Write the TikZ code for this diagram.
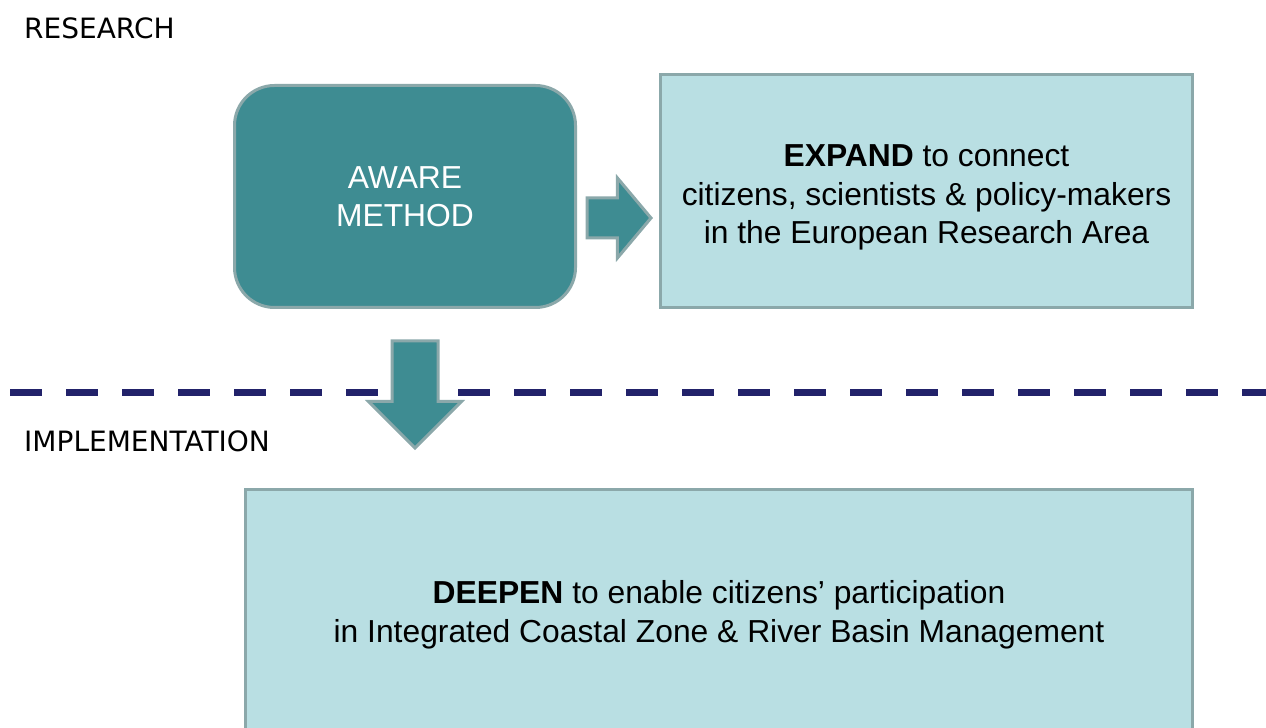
\documentclass[tikz,border=0pt]{standalone}
\usepackage{fontspec}
\setmainfont{Liberation Sans}
\newfontfamily\phasefont{DejaVu Sans}
\usepackage{tikz}
\usetikzlibrary{positioning,calc,shapes.arrows}
\definecolor{tealdark}{HTML}{3E8C92}
\definecolor{tealpale}{HTML}{B9DFE3}
\definecolor{edgegray}{HTML}{8BA8AA}
\definecolor{navydash}{HTML}{22226A}

\begin{document}
\begin{tikzpicture}[x=1pt,y=1pt,
core/.style={draw=edgegray,line width=3pt,fill=tealdark,rounded corners=40pt,text=white,align=center,font=\fontsize{31.8}{38}\selectfont},
goal/.style={draw=edgegray,line width=3pt,fill=tealpale,align=center,font=\fontsize{31.8}{38.5}\selectfont},
fatarrow/.style={single arrow,draw=edgegray,line width=3pt,fill=tealdark,inner xsep=0pt},
phase/.style={anchor=base west,inner sep=0pt,font=\phasefont\fontsize{28}{34}\selectfont}]
\useasboundingbox (0,0) rectangle (1266,728);

\node[phase] (research) at (24,689) {RESEARCH};
\node[phase] (implementation) at (24,276) {IMPLEMENTATION};

% boundary between the two phases
\coordinate (split west) at (10,335);
\coordinate (split east) at (1276,335);
\draw[navydash,line width=7pt,dash pattern=on 32pt off 24pt] (split west) -- (split east);

\node[core,minimum width=341pt,minimum height=222pt] (aware) at (405,531.5) {AWARE\\METHOD};
\node[goal,minimum width=532pt,minimum height=233pt] (expand) at (926.5,537)
  {\rule{0pt}{35pt}\textbf{EXPAND} to connect\\citizens, scientists \& policy-makers\\in the European Research Area};
\node[goal,minimum width=947pt,minimum height=245pt] (deepen) at (719,116)
  {\rule{0pt}{29pt}\textbf{DEEPEN} to enable citizens’ participation\\in Integrated Coastal Zone \& River Basin Management};

\node[fatarrow,anchor=tail,minimum height=64pt,inner ysep=18.5pt,single arrow head extend=20pt,single arrow tip angle=100]
  (toexpand) at ([xshift=8.5pt,yshift=-21.5pt]aware.east) {};
\node[fatarrow,rotate=-90,anchor=tail,minimum height=107pt,inner ysep=21.5pt,single arrow head extend=23.5pt,single arrow tip angle=90]
  (todeepen) at ([xshift=10pt,yshift=-30.5pt]aware.south) {};
\end{tikzpicture}
\end{document}
